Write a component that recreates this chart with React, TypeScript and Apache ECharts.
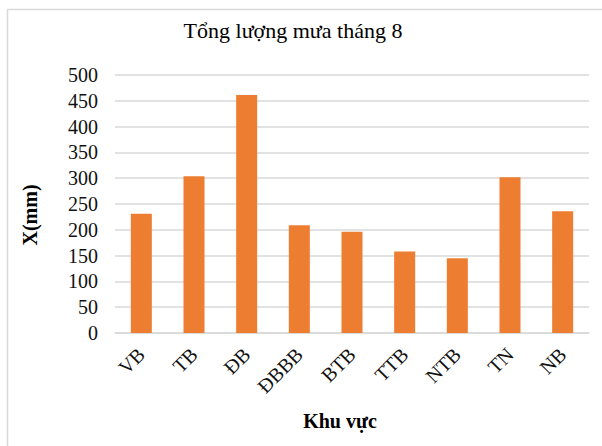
import React, { useEffect, useRef } from "react";
import * as echarts from "echarts";

const categories = ["VB", "TB", "ĐB", "ĐBBB", "BTB", "TTB", "NTB", "TN", "NB"];
const rainfall = [231, 304, 461, 209, 196, 158, 145, 302, 236];
const yMin = 0;
const yMax = 500;
const yStep = 50;
const titleText = "Tổng lượng mưa tháng 8";
const yAxisTitle = "X(mm)";
const xAxisTitle = "Khu vực";

const FONT = "'Liberation Serif', 'Times New Roman', serif";

export default function App() {
  const ref = useRef<HTMLDivElement>(null);
  useEffect(() => {
    if (!ref.current) return;
    const chart = echarts.init(ref.current, null, { renderer: "svg" });
    chart.setOption({
      animation: false,
      backgroundColor: "#ffffff",
      grid: { left: 115, right: 13, top: 75, bottom: 113, containLabel: false },
      xAxis: {
        type: "category",
        data: categories,
        axisLine: { lineStyle: { color: "#d9d9d9", width: 1.5 } },
        axisTick: { show: false },
        axisLabel: {
          interval: 0,
          rotate: 45,
          margin: 18,
          fontFamily: FONT,
          fontSize: 20,
          color: "#111",
        },
      },
      yAxis: {
        type: "value",
        min: yMin,
        max: yMax,
        interval: yStep,
        axisLine: { show: false },
        axisTick: { show: false },
        splitLine: { lineStyle: { color: "#d9d9d9", width: 1.5 } },
        axisLabel: {
          margin: 17,
          fontFamily: FONT,
          fontSize: 20,
          color: "#111",
        },
      },
      series: [
        {
          type: "bar",
          data: rainfall,
          barWidth: 21,
          itemStyle: { color: "#ED7D31" },
        },
      ],
      graphic: [
        {
          type: "rect",
          shape: { x: 7.5, y: 9.5, width: 700, height: 600 },
          style: { fill: "none", stroke: "#d9d9d9", lineWidth: 1.5 },
          z: -1,
          silent: true,
        },
        {
          type: "text",
          x: 293,
          y: 30,
          style: {
            text: titleText,
            fontFamily: FONT,
            fontSize: 22,
            fill: "#000",
            textAlign: "center",
            textVerticalAlign: "middle",
          },
        },
        {
          type: "text",
          x: 30,
          y: 215,
          rotation: Math.PI / 2,
          style: {
            text: yAxisTitle,
            fontFamily: FONT,
            fontSize: 20,
            fontWeight: "bold",
            fill: "#000",
            textAlign: "center",
            textVerticalAlign: "middle",
          },
        },
        {
          type: "text",
          x: 340,
          y: 421,
          style: {
            text: xAxisTitle,
            fontFamily: FONT,
            fontSize: 20,
            fontWeight: "bold",
            fill: "#000",
            textAlign: "center",
            textVerticalAlign: "middle",
          },
        },
      ],
    });
    return () => chart.dispose();
  }, []);
  return (
    <div
      ref={ref}
      style={{ position: "fixed", left: 0, top: 0, width: 602, height: 446 }}
    />
  );
}
